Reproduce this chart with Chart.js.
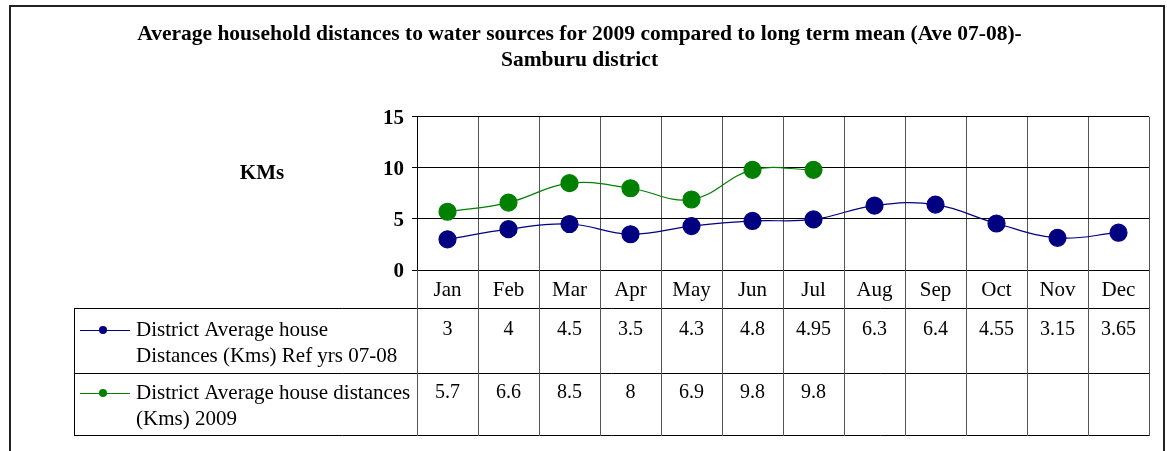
<!DOCTYPE html>
<html><head><meta charset="utf-8">
<script src="https://cdn.jsdelivr.net/npm/chart.js@4/dist/chart.umd.min.js"></script>
<style>html,body{margin:0;padding:0;background:#fff;} #wrap{width:1167px;height:451px;position:relative}</style>
</head><body><div id="wrap"><canvas id="c" width="1167" height="451"></canvas></div>
<script>
const months = ['Jan','Feb','Mar','Apr','May','Jun','Jul','Aug','Sep','Oct','Nov','Dec'];
const refValues = [3,4,4.5,3.5,4.3,4.8,4.95,6.3,6.4,4.55,3.15,3.65];
const values2009 = [5.7,6.6,8.5,8,6.9,9.8,9.8,null,null,null,null,null];
const yTicks = [0,5,10,15];
const seriesNames = [['District Average house','Distances (Kms) Ref yrs 07-08'],['District Average house distances','(Kms) 2009']];
const seriesColors = ['#000080','#008000'];
const titleLines = ['Average household distances to water sources for 2009 compared to long term mean (Ave 07-08)-','Samburu district'];
const yLabel = 'KMs';

const SERIF = "'Liberation Serif','Times New Roman',serif";

const framePlugin = {
  id:'frame',
  beforeDraw(chart){
    const ctx = chart.ctx;
    ctx.save();
    ctx.fillStyle='#fff'; ctx.fillRect(0,0,chart.width,chart.height);
    ctx.strokeStyle='#222'; ctx.lineWidth=2;
    ctx.beginPath();
    ctx.moveTo(10,451); ctx.lineTo(10,6); ctx.lineTo(1164,6); ctx.lineTo(1164,451);
    ctx.stroke();
    ctx.restore();
  },
  afterDraw(chart){
    const ctx = chart.ctx, x = chart.scales.x, ca = chart.chartArea;
    const colW = (ca.right-ca.left)/months.length;
    const top = ca.bottom, hdrB = top+38, r1B = hdrB+65, r2B = r1B+62;
    const tableLeft = 74;
    ctx.save();
    ctx.lineWidth=1;
    ctx.strokeStyle='#000';
    ctx.beginPath();
    [hdrB,r1B,r2B].forEach(y=>{ctx.moveTo(tableLeft,y+0.5);ctx.lineTo(ca.right,y+0.5);});
    ctx.moveTo(tableLeft+0.5,hdrB); ctx.lineTo(tableLeft+0.5,r2B+1);
    ctx.stroke();
    ctx.strokeStyle='#555';
    ctx.beginPath();
    for(let i=0;i<=months.length;i++){
      const px = Math.round(x.getPixelForValue(0)-colW/2 + i*colW)+0.5;
      ctx.moveTo(px,top); ctx.lineTo(px,r2B+1);
    }
    ctx.stroke();
    ctx.fillStyle='#000';
    ctx.font = "20px "+SERIF;
    ctx.textAlign='center'; ctx.textBaseline='middle';
    const rowsY = [hdrB+22, r1B+20];
    [refValues, values2009].forEach((arr,ri)=>{
      arr.forEach((v,i)=>{
        if(v===null) return;
        ctx.fillText(String(v), x.getPixelForValue(i), rowsY[ri]);
      });
    });
    ctx.textAlign='left';
    ctx.font = "21px "+SERIF;
    seriesNames.forEach((lines,ri)=>{
      const y0 = rowsY[ri];
      lines.forEach((t,li)=>ctx.fillText(t,136,y0+li*26));
      ctx.strokeStyle=seriesColors[ri]; ctx.fillStyle=seriesColors[ri];
      ctx.beginPath(); ctx.moveTo(80,y0+0.5); ctx.lineTo(130,y0+0.5); ctx.stroke();
      ctx.beginPath(); ctx.arc(103,y0,4,0,Math.PI*2); ctx.fill();
      ctx.fillStyle='#000';
    });
    ctx.font = "bold 21px "+SERIF;
    ctx.textAlign='center';
    ctx.fillText(yLabel, 262, 174);
    ctx.restore();
  }
};

new Chart(document.getElementById('c'), {
  type:'line',
  data:{
    labels: months,
    datasets:[
      {label: seriesNames[0].join(' '), data: refValues, borderColor: seriesColors[0], backgroundColor: seriesColors[0],
       borderWidth:1.2, pointRadius:8.5, pointHoverRadius:8.5, pointBackgroundColor: seriesColors[0], pointBorderColor: seriesColors[0], tension:0.4},
      {label: seriesNames[1].join(' '), data: values2009, borderColor: seriesColors[1], backgroundColor: seriesColors[1],
       borderWidth:1.2, pointRadius:8.5, pointHoverRadius:8.5, pointBackgroundColor: seriesColors[1], pointBorderColor: seriesColors[1], tension:0.4, spanGaps:false}
    ]
  },
  options:{
    responsive:false, animation:false, devicePixelRatio:1,
    layout:{padding:{left:10,right:18,top:0,bottom:143}},
    plugins:{
      legend:{display:false}, tooltip:{enabled:false},
      title:{display:true, text:titleLines, color:'#000', font:{family:SERIF, size:21.5, weight:'bold', lineHeight:1.18}, padding:{top:22,bottom:44}}
    },
    scales:{
      x:{
        offset:true,
        grid:{offset:true, color:'#555', drawTicks:false, lineWidth:1},
        border:{display:true,color:'#000'},
        ticks:{color:'#000', font:{family:SERIF,size:21}, padding:8, maxRotation:0, autoSkip:false},
        afterFit(s){ s.height = 38; }
      },
      y:{
        min:0, max:15,
        afterBuildTicks(s){ s.ticks = yTicks.map(v=>({value:v})); },
        grid:{color:'#000', tickLength:5, lineWidth:1},
        border:{display:true,color:'#000'},
        ticks:{color:'#000', font:{family:SERIF,size:21,weight:'bold'}, padding:8, labelOffset:2},
        afterFit(s){ s.width = 407; }
      }
    }
  },
  plugins:[framePlugin]
});
</script></body></html>
